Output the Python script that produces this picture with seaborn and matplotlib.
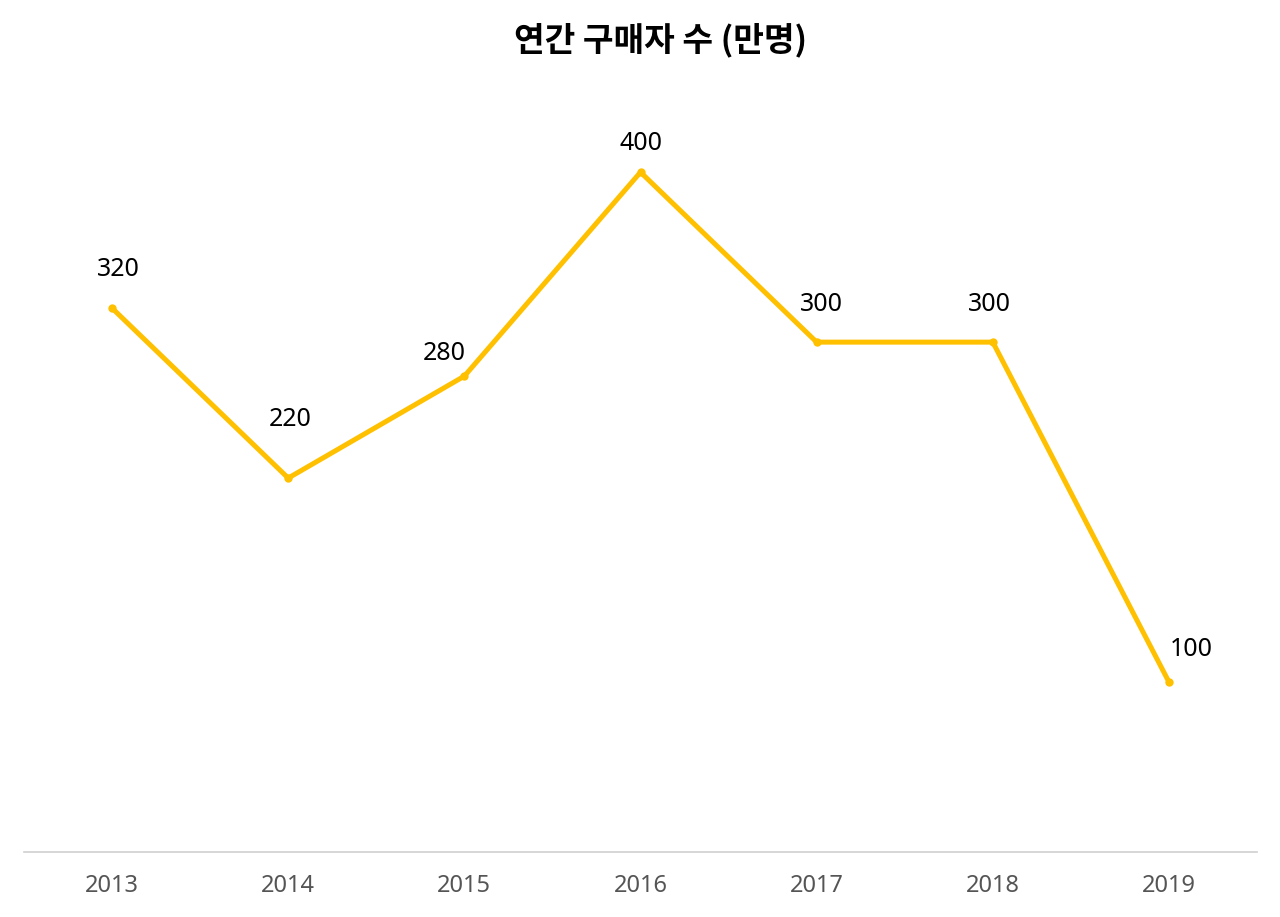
# Load the necessary modules
import matplotlib
matplotlib.use("Agg")
import matplotlib.pyplot as plt
import seaborn as sns
import pandas as pd

# Data
years = ["2013", "2014", "2015", "2016", "2017", "2018", "2019"]
buyers = [320, 220, 280, 400, 300, 300, 100]
# label offsets (pixels) for each point label
label_dx = [6, 2, -20, 0, 5, -3, 22]
label_dy = [39, 59, 23, 29, 38, 38, 33]

df = pd.DataFrame({"year": years, "buyers": buyers})

sns.set_style("white")
plt.rcParams["font.family"] = ["Noto Sans", "Noto Sans CJK KR", "DejaVu Sans"]

# Initialize figure
fig = plt.figure(figsize=(12.8, 9.17), dpi=100)
ax = fig.add_axes([0.01875, 0.0709, 0.9633, 0.834])

sns.lineplot(x="year", y="buyers", data=df, ax=ax, color="#FFC000",
             linewidth=3.6, marker="o", markersize=6, markeredgewidth=0,
             sort=False)

# Value labels
for i, v in enumerate(buyers):
    ax.annotate(str(v), (i, v), xytext=(label_dx[i], label_dy[i]),
                textcoords="offset pixels", ha="center", va="center",
                fontsize=18, color="black")

# Axes styling
ax.set_xlim(-0.5, 6.5)
ax.set_ylim(0, 450)
ax.set_yticks([])
ax.set_xlabel("")
ax.set_ylabel("")
for side in ["top", "right", "left"]:
    ax.spines[side].set_visible(False)
ax.spines["bottom"].set_color("#d0d0d0")
ax.spines["bottom"].set_linewidth(1.2)
ax.tick_params(axis="x", length=0, pad=16, labelsize=17, labelcolor="#555555")

# Title
fig.suptitle("연간 구매자 수 (만명)", x=0.516, y=0.975, fontsize=24, fontweight="bold",
             color="black", family=["Noto Sans CJK KR", "DejaVu Sans"])

# Save the image
fig.savefig("out.png", dpi=100)
